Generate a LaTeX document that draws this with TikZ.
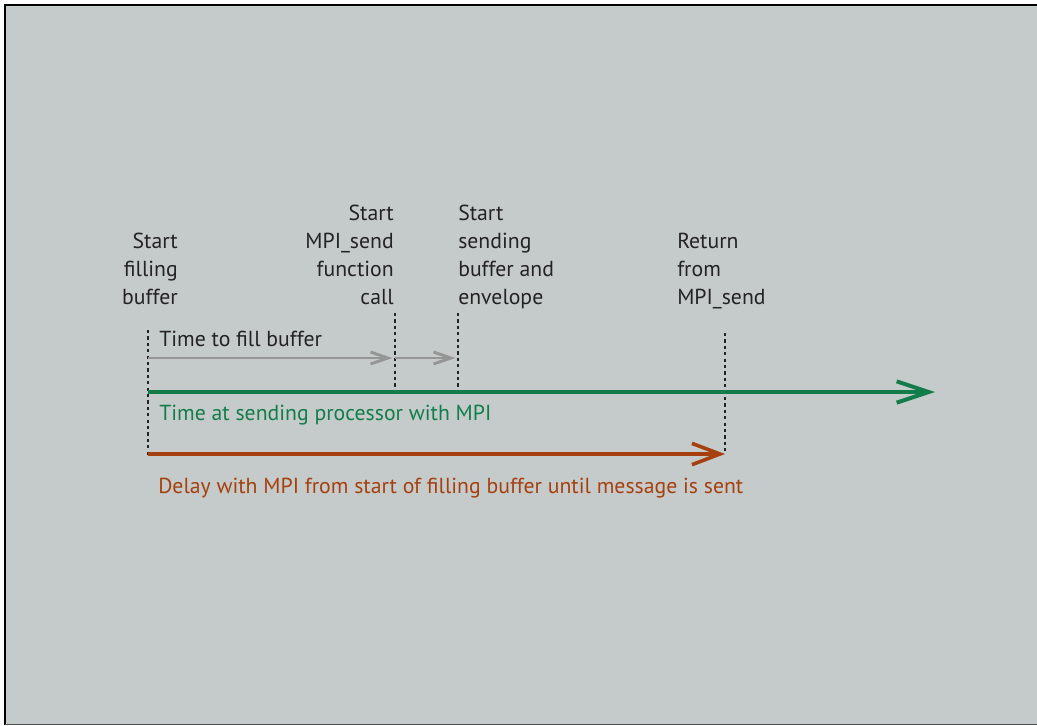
\documentclass[tikz,border=0pt]{standalone}
\usepackage{fontspec}
\setmainfont{PT Sans}
\usetikzlibrary{arrows.meta}

\definecolor{panelgray}{RGB}{197,203,202}
\definecolor{labelink}{RGB}{35,35,35}
\definecolor{timegreen}{RGB}{18,125,74}
\definecolor{delaybrown}{RGB}{166,64,14}
\definecolor{fillgray}{RGB}{150,150,150}

\tikzset{
  timemark/.style={labelink, line width=1.8pt, dash pattern=on 2.4pt off 2.4pt},
  timeline/.style={timegreen, line width=3pt, -{Straight Barb[length=24pt,width=16pt,line width=3pt]}},
  fillarrow/.style={fillgray, line width=2.2pt, -{Straight Barb[length=13pt,width=9pt,line width=2.2pt]}},
  delayarrow/.style={delaybrown, line width=2.7pt, -{Straight Barb[length=21pt,width=16pt,line width=2.7pt]}},
  lbl/.style={inner sep=0pt, labelink, font=\fontsize{16.3}{21}\selectfont},
}

\begin{document}
\begin{tikzpicture}[x=0.75pt, y=-0.75pt]
  \useasboundingbox (0,0) rectangle (1037,725);
  \fill[panelgray] (5,5) rectangle (1037,725);
  \draw[line width=2.2pt] (5,725) -- (5,5) -- (1037,5);
  \draw[gray!60!black, line width=1pt] (5,724.5) -- (1037,724.5);

  % time marks on the axis
  \coordinate (fillTop) at (148,330);
  \coordinate (fillBot) at (148,455);
  \coordinate (callTop) at (395,313);
  \coordinate (callBot) at (395,392);
  \coordinate (sendTop) at (458,313);
  \coordinate (sendBot) at (458,392);
  \coordinate (retTop) at (725,333);
  \coordinate (retBot) at (725,454);
  \coordinate (axisEnd) at (935,392);
  \coordinate (fillMid) at (148,358);

  \draw[timemark] (fillTop) -- (fillBot);
  \draw[timemark] (callTop) -- (callBot);
  \draw[timemark] (sendTop) -- (sendBot);
  \draw[timemark] (retTop) -- (retBot);

  \draw[fillarrow, shorten >=2pt] (fillMid) -- (fillMid -| callTop);
  \draw[fillarrow, shorten >=2pt] (fillMid -| callTop) -- (fillMid -| sendTop);
  \draw[timeline] (fillTop |- callBot) -- (axisEnd);
  \draw[delayarrow] (fillTop |- retBot) -- (retBot);

  % labels above the marks
  \node[lbl, align=right, anchor=north east] (fillLabel) at (178,233) {Start\\filling\\buffer};
  \node[lbl, align=right, anchor=north east] (callLabel) at (394,205) {Start\\MPI\_send\\function\\call};
  \node[lbl, align=left, anchor=north west] (sendLabel) at (458,205) {Start\\sending\\buffer and\\envelope};
  \node[lbl, align=left, anchor=north west] (retLabel) at (677,233) {Return\\from\\MPI\_send};

  \node[lbl, anchor=base west] (fillTime) at (159,346) {Time to fill buffer};
  \node[lbl, anchor=base west, timegreen] (greenTime) at (159,420) {Time at sending processor with MPI};
  \node[lbl, anchor=base west, delaybrown] (delayTime) at (158,493) {Delay with MPI from start of filling buffer until message is sent};
\end{tikzpicture}
\end{document}
